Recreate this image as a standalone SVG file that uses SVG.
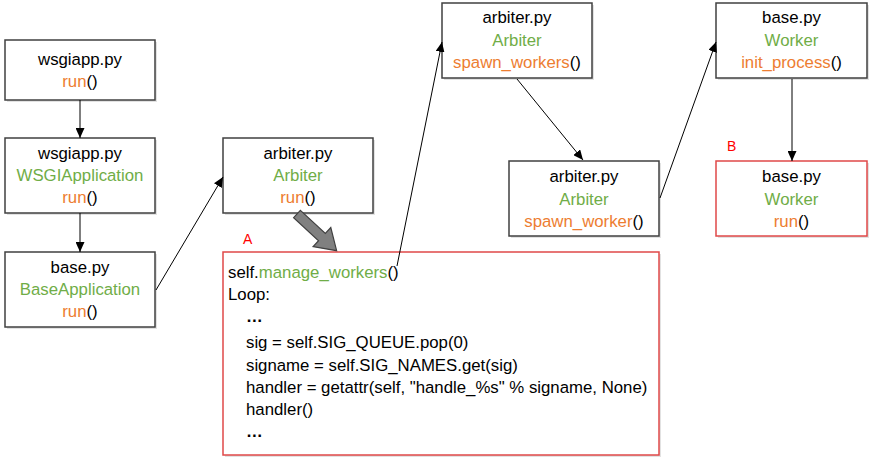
<svg xmlns="http://www.w3.org/2000/svg" width="873" height="463" viewBox="0 0 873 463">
<defs>
<style>
text{font-family:"Liberation Sans",Arial,sans-serif;font-size:16.8px;fill:#000}
.c{text-anchor:middle}
.g{fill:#70AD47}
.o{fill:#ED7D31}
.r{fill:#FF0000;font-size:14px}
.box{fill:#fff;stroke:#404040;stroke-width:1.5}
.rbox{fill:#fff;stroke:#E04848;stroke-width:1.5}
.sh{fill:#e2e2e2}
.ln{stroke:#000;stroke-width:1;fill:none}
</style>
<marker id="ah" markerWidth="10" markerHeight="9" refX="10" refY="4.5" orient="auto" markerUnits="userSpaceOnUse">
<path d="M0,0 L10,4.5 L0,9 Z" fill="#000"/>
</marker>
</defs>
<rect width="873" height="463" fill="#fff"/>

<g id="n1">
<rect class="sh" x="7" y="42" width="150" height="60"/>
<rect class="box" x="5" y="40" width="150" height="60"/>
<text class="c" x="80" y="65">wsgiapp.py</text>
<text class="c" x="80" y="87"><tspan class="o">run</tspan>()</text>
</g>

<g id="n2">
<rect class="sh" x="7" y="140" width="150" height="75"/>
<rect class="box" x="5" y="138" width="150" height="75"/>
<text class="c" x="80" y="159">wsgiapp.py</text>
<text class="c g" x="80" y="181">WSGIApplication</text>
<text class="c" x="80" y="203"><tspan class="o">run</tspan>()</text>
</g>

<g id="n3">
<rect class="sh" x="7" y="254" width="150" height="75"/>
<rect class="box" x="5" y="252" width="150" height="75"/>
<text class="c" x="80" y="273">base.py</text>
<text class="c g" x="80" y="295">BaseApplication</text>
<text class="c" x="80" y="317"><tspan class="o">run</tspan>()</text>
</g>

<g id="n4">
<rect class="sh" x="225" y="140" width="150" height="75"/>
<rect class="box" x="223" y="138" width="150" height="75"/>
<text class="c" x="298" y="159">arbiter.py</text>
<text class="c g" x="298" y="181">Arbiter</text>
<text class="c" x="298" y="203"><tspan class="o">run</tspan>()</text>
</g>

<g id="nA">
<text class="r" x="243" y="244">A</text>
<rect class="sh" x="225" y="254" width="436" height="203"/>
<rect class="rbox" x="223" y="252" width="436" height="203"/>
<text x="228" y="278">self.<tspan class="g">manage_workers</tspan>()</text>
<text x="228" y="300">Loop:</text>
<text x="246" y="322" font-weight="bold">…</text>
<text x="246" y="348">sig = self.SIG_QUEUE.pop(0)</text>
<text x="246" y="371">signame = self.SIG_NAMES.get(sig)</text>
<text x="246" y="393">handler = getattr(self, "handle_%s" % signame, None)</text>
<text x="246" y="415">handler()</text>
<text x="246" y="437" font-weight="bold">…</text>
</g>

<g id="n5">
<rect class="sh" x="444" y="5" width="150" height="75"/>
<rect class="box" x="442" y="3" width="150" height="75"/>
<text class="c" x="517" y="23">arbiter.py</text>
<text class="c g" x="517" y="46">Arbiter</text>
<text class="c" x="517" y="68"><tspan class="o">spawn_workers</tspan>()</text>
</g>

<g id="n6">
<rect class="sh" x="511" y="163" width="150" height="75"/>
<rect class="box" x="509" y="161" width="150" height="75"/>
<text class="c" x="584" y="182">arbiter.py</text>
<text class="c g" x="584" y="205">Arbiter</text>
<text class="c" x="584" y="227"><tspan class="o">spawn_worker</tspan>()</text>
</g>

<g id="n7">
<rect class="sh" x="718" y="5" width="151" height="75"/>
<rect class="box" x="716" y="3" width="151" height="75"/>
<text class="c" x="791.5" y="23">base.py</text>
<text class="c g" x="791.5" y="46">Worker</text>
<text class="c" x="791.5" y="68"><tspan class="o">init_process</tspan>()</text>
</g>

<g id="nB">
<text class="r" x="727" y="151">B</text>
<rect class="sh" x="718" y="163" width="151" height="75"/>
<rect class="rbox" x="716" y="161" width="151" height="75"/>
<text class="c" x="791.5" y="182">base.py</text>
<text class="c g" x="791.5" y="205">Worker</text>
<text class="c" x="791.5" y="227"><tspan class="o">run</tspan>()</text>
</g>

<g id="connectors">
<line class="ln" x1="80" y1="100" x2="80" y2="138" marker-end="url(#ah)"/>
<line class="ln" x1="80" y1="213" x2="80" y2="252" marker-end="url(#ah)"/>
<line class="ln" x1="156" y1="290" x2="223" y2="177" marker-end="url(#ah)"/>
<line class="ln" x1="397" y1="266" x2="442" y2="42" marker-end="url(#ah)"/>
<line class="ln" x1="517" y1="79" x2="583" y2="160" marker-end="url(#ah)"/>
<line class="ln" x1="660" y1="198" x2="716" y2="42" marker-end="url(#ah)"/>
<line class="ln" x1="792" y1="79" x2="792" y2="161" marker-end="url(#ah)"/>
<polygon points="0,-5 34,-5 34,-13 54,0 34,13 34,5 0,5" fill="#808080" stroke="#404040" stroke-width="1.2" transform="translate(297,214) rotate(42.8)"/>
</g>
</svg>
